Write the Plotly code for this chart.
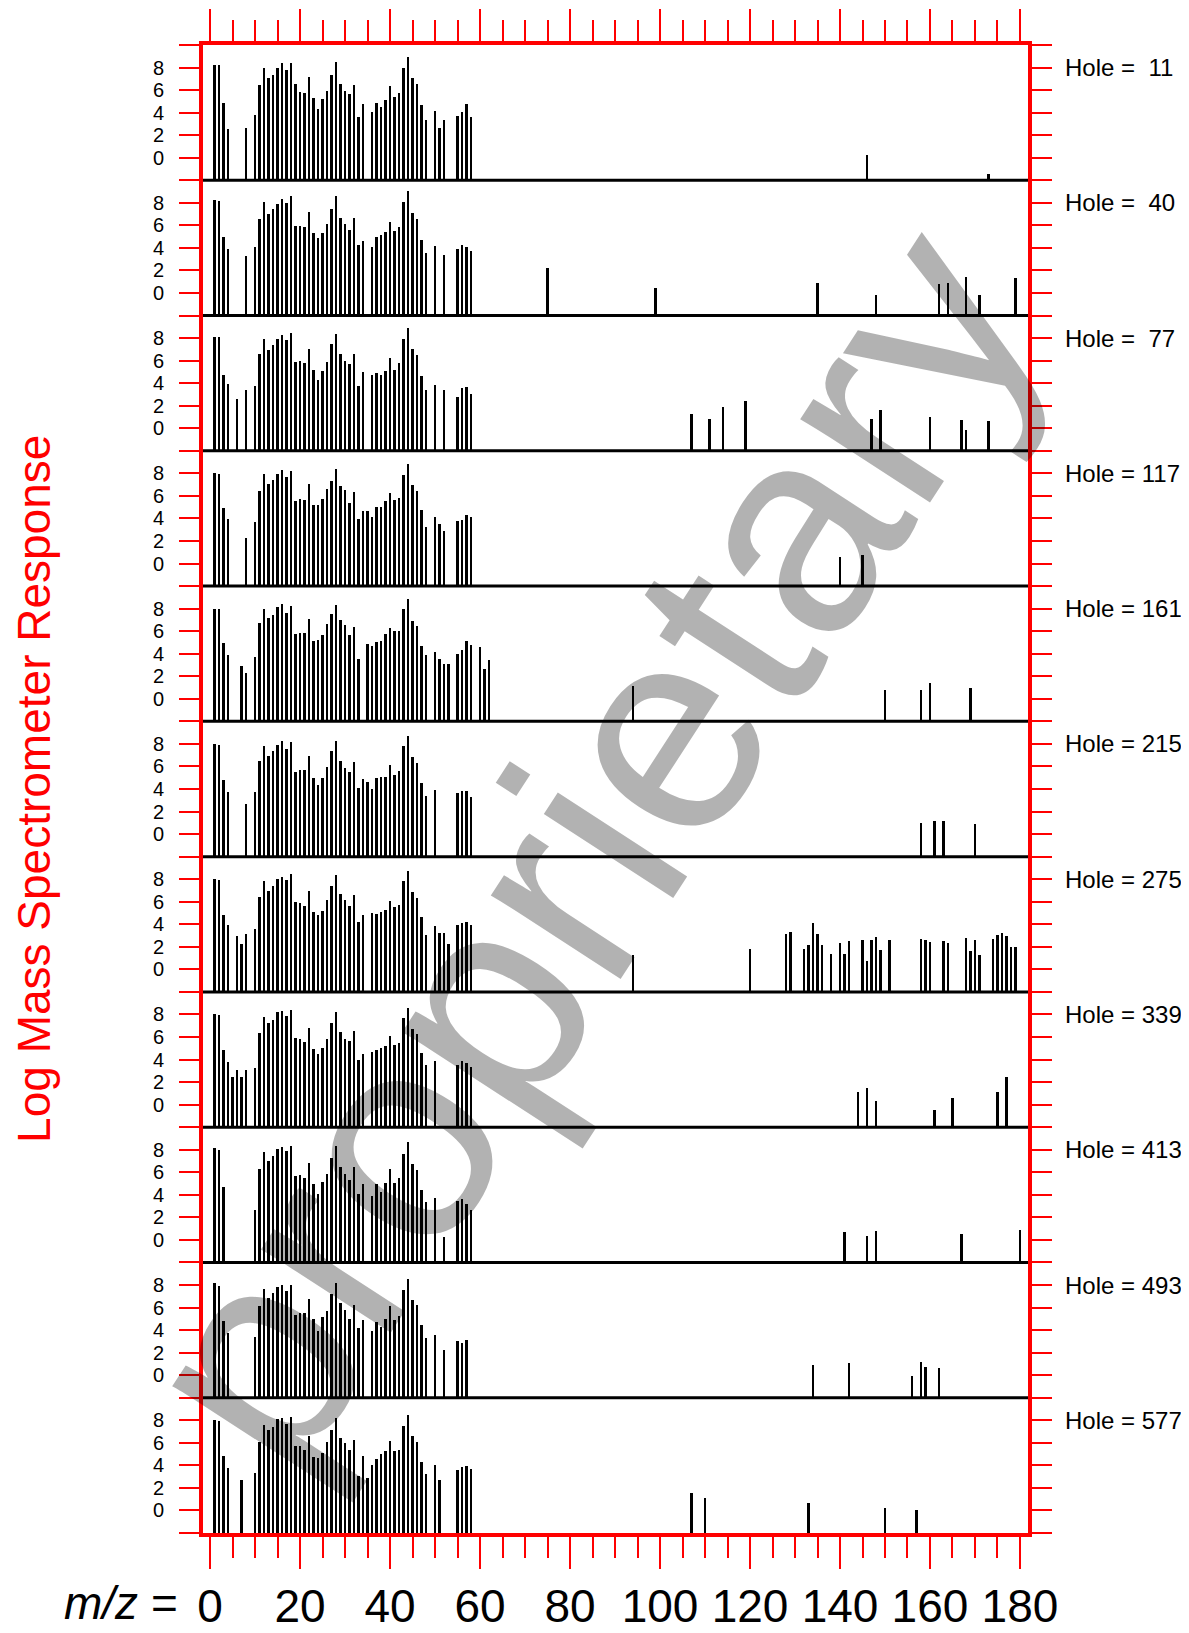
import plotly.graph_objects as go

# m/z runs that most holes share
RUN_10_34 = [10, 11, 12, 13, 14, 15, 16, 17, 18, 19, 20, 21, 22, 23, 24, 25, 26, 27, 28, 29, 30, 31, 32, 33, 34]
RUN_36_48 = [36, 37, 38, 39, 40, 41, 42, 43, 44, 45, 46, 47, 48]

HOLES = [11, 40, 77, 117, 161, 215, 275, 339, 413, 493, 577]

MZ_11 = [1, 2, 3, 4, 8] + RUN_10_34 + RUN_36_48 + [50, 51, 52, 55, 56, 57, 58, 146, 173]
RESP_11 = [8.21, 8.21, 4.89, 2.55, 2.67,
           3.76, 6.49, 7.97, 7.05, 7.38, 7.97, 8.39, 7.79, 8.39, 6.52, 5.87, 5.75, 7.14, 5.27, 4.36,
           5.24, 5.96, 7.38, 8.47, 6.58, 5.96, 5.66, 6.46, 3.64, 4.77,
           4.06, 4.86, 4.47, 5.16, 6.37, 5.36, 5.78, 7.97, 8.98, 7.05, 6.58, 4.65, 3.35,
           4.15, 2.67, 3.35, 3.73, 4.06, 4.74, 3.64, 0.28, -1.4]

MZ_40 = [1, 2, 3, 4, 8] + RUN_10_34 + RUN_36_48 + [50, 52, 55, 56, 57, 58, 75, 99, 135, 148, 162, 164, 168, 171, 179]
RESP_40 = [8.22, 8.17, 4.94, 3.85, 3.25,
           4.05, 6.57, 8.08, 6.98, 7.46, 7.87, 8.34, 7.96, 8.58, 5.95, 5.95, 5.83, 7.16, 5.27, 4.85,
           5.27, 6.07, 7.46, 8.58, 6.63, 6.07, 5.56, 6.63, 4.23, 4.56,
           4.05, 4.94, 5.15, 5.36, 6.27, 5.44, 5.86, 8.08, 9.05, 7.07, 6.57, 4.64, 3.55,
           4.14, 3.34, 3.85, 4.26, 4.05, 3.67,
           2.2, 0.44, 0.9, -0.2, 0.8, 0.9, 1.37, -0.2, 1.27]

MZ_77 = [1, 2, 3, 4, 6, 8] + RUN_10_34 + RUN_36_48 + [50, 52, 55, 56, 57, 58, 107, 111, 114, 119, 147, 149, 160, 167, 168, 173]
RESP_77 = [8.11, 8.11, 4.79, 3.99, 2.60, 3.40,
           3.79, 6.60, 7.99, 7.01, 7.43, 7.99, 8.31, 7.90, 8.52, 5.89, 6.01, 5.80, 7.10, 5.21, 4.29,
           5.09, 5.89, 7.51, 8.40, 6.60, 6.01, 5.71, 6.60, 3.79, 5.00,
           4.79, 4.91, 4.79, 5.09, 6.30, 5.21, 5.80, 7.99, 8.91, 7.10, 6.51, 4.70, 3.40,
           3.91, 3.40, 2.78, 3.61, 3.70, 3.11,
           1.29, 0.82, 1.92, 2.48, 0.82, 1.65, 1.0, 0.74, -0.1, 0.65]

MZ_117 = [1, 2, 3, 4, 8] + RUN_10_34 + [35] + RUN_36_48 + [50, 51, 52, 55, 56, 57, 58, 140, 145]
RESP_117 = [8.08, 7.99, 4.94, 3.96, 2.25,
            3.70, 6.48, 7.96, 7.07, 7.43, 7.99, 8.34, 7.69, 8.25, 5.59, 5.77, 5.62, 7.07, 5.18, 5.18,
            5.77, 6.66, 7.37, 8.40, 6.89, 6.57, 5.41, 6.39, 3.96, 4.67,
            4.70,
            4.14, 5.03, 5.00, 5.56, 6.24, 5.68, 5.86, 7.90, 8.88, 6.98, 6.48, 4.76, 3.25,
            4.14, 3.49, 2.93, 3.76, 3.88, 4.32, 4.17,
            0.56, 0.75]

MZ_161 = ([1, 2, 3, 4, 7, 8] + RUN_10_34[:-1] + [35] + RUN_36_48
          + [50, 51, 52, 53, 55, 56, 57, 58, 60, 61, 62, 94, 150, 158, 160, 169])
RESP_161 = [7.99, 7.99, 4.91, 3.85, 2.90, 2.25,
            3.70, 6.69, 7.93, 7.16, 7.46, 8.14, 8.37, 7.63, 8.25, 5.77, 5.80, 5.80, 7.04, 5.15, 5.24,
            5.68, 6.66, 7.49, 8.34, 6.98, 6.57, 5.65, 6.36, 3.52,
            4.88,
            4.70, 5.00, 5.15, 5.77, 6.24, 5.98, 5.98, 7.99, 8.82, 6.92, 6.45, 4.67, 3.85,
            4.14, 3.49, 3.08, 3.08, 3.96, 4.29, 5.12, 4.79, 4.56, 2.60, 3.40,
            1.14, 0.77, 0.77, 1.41, 0.95]

MZ_215 = [1, 2, 3, 4, 8] + RUN_10_34 + [35] + RUN_36_48 + [50, 55, 56, 57, 58, 158, 161, 163, 170]
RESP_215 = [7.93, 7.90, 4.76, 3.70, 2.63,
            3.73, 6.42, 7.81, 6.92, 7.31, 7.90, 8.22, 7.54, 8.14, 5.50, 5.65, 5.62, 6.89, 4.97, 4.35,
            4.97, 5.89, 7.34, 8.25, 6.45, 5.83, 5.47, 6.39, 4.02, 4.85,
            4.56,
            3.96, 4.94, 5.03, 5.03, 6.09, 5.24, 5.59, 7.81, 8.70, 6.80, 6.30, 4.50, 3.31,
            3.85, 3.61, 3.82, 3.82, 3.25,
            0.96, 1.14, 1.14, 0.87]

MZ_275 = ([1, 2, 3, 4, 6, 7, 8] + RUN_10_34 + RUN_36_48 + [50, 51, 52, 53, 55, 56, 57, 58]
          + [94, 120, 128, 129, 132, 133, 134, 135, 136, 138, 140, 141, 142, 145, 146, 147, 148,
             149, 151, 158, 159, 160, 163, 164, 168, 169, 170, 171, 174, 175, 176, 177, 178, 179])
RESP_275 = [8.05, 7.99, 4.85, 3.99, 2.99, 2.31, 3.20,
            3.64, 6.45, 7.84, 6.95, 7.40, 8.02, 8.25, 7.93, 8.52, 5.98, 5.89, 5.68, 6.95, 5.09, 4.85,
            5.21, 6.21, 7.46, 8.40, 6.72, 6.15, 5.68, 6.63, 4.20, 4.88,
            5.03, 4.97, 5.12, 5.33, 6.12, 5.59, 5.77, 7.87, 8.76, 6.89, 6.39, 4.67, 3.11,
            3.88, 3.22, 3.28, 2.31, 3.99, 4.11, 4.23, 3.99,
            1.28, 1.85, 3.16, 3.34, 1.82, 2.15, 4.18, 3.19, 2.18, 1.37, 2.33, 1.43, 2.54, 2.63, 0.75,
            2.60, 2.93, 1.76, 2.60, 2.69, 2.60, 2.45, 2.57, 2.33, 2.78, 1.64, 2.60, 1.34, 2.72, 3.07,
            3.28, 2.99, 2.06, 2.03]

MZ_339 = [1, 2, 3, 4, 5, 6, 7, 8] + RUN_10_34 + RUN_36_48 + [50, 55, 56, 57, 58, 144, 146, 148, 161, 165, 175, 177]
RESP_339 = [8.02, 7.96, 4.82, 3.79, 2.49, 3.11, 2.49, 3.11,
            3.25, 6.39, 7.75, 7.22, 7.49, 8.22, 8.34, 7.84, 8.37, 5.92, 5.83, 5.59, 6.80, 4.94, 4.53,
            5.03, 5.83, 7.28, 8.22, 6.45, 5.86, 5.65, 6.57, 3.99, 4.53,
            4.64, 4.88, 5.03, 5.18, 6.09, 5.27, 5.47, 7.72, 8.61, 6.72, 6.24, 4.56, 3.52,
            3.91, 3.49, 3.88, 3.70, 3.37,
            1.17, 1.45, 0.34, -0.49, 0.62, 1.17, 2.46]

MZ_413 = [1, 2, 3] + RUN_10_34 + RUN_36_48 + [50, 52, 55, 56, 57, 58, 141, 146, 148, 167, 180]
RESP_413 = [8.11, 7.96, 4.64,
            2.66, 6.24, 7.75, 7.01, 7.46, 8.02, 8.25, 7.90, 8.28, 5.62, 5.77, 5.47, 6.80, 4.97, 4.08,
            5.09, 5.86, 7.22, 8.34, 6.42, 5.83, 5.33, 6.42, 4.02, 4.91,
            3.91, 4.94, 4.26, 5.00, 6.27, 5.06, 5.44, 7.63, 8.67, 6.75, 6.21, 4.38, 3.31,
            3.70, 0.27, 3.40, 3.64, 3.14, 2.63,
            0.72, 0.35, 0.81, 0.54, 0.9]

MZ_493 = [1, 2, 3, 4] + RUN_10_34 + RUN_36_48 + [50, 52, 55, 56, 57, 134, 142, 156, 158, 159, 162]
RESP_493 = [8.11, 7.90, 4.73, 3.70,
            3.31, 6.09, 7.63, 6.80, 7.25, 7.78, 7.99, 7.40, 7.96, 5.33, 5.47, 5.47, 6.69, 4.91, 3.91,
            5.12, 5.65, 7.16, 8.17, 6.33, 5.74, 4.97, 6.18, 4.11, 4.82,
            3.91, 4.70, 4.23, 4.97, 6.07, 4.88, 5.24, 7.54, 8.46, 6.60, 6.15, 4.44, 3.28,
            3.52, 2.22, 2.99, 2.81, 3.11,
            0.82, 1.0, -0.1, 1.1, 0.73, 0.64]

MZ_577 = [1, 2, 3, 4, 7] + RUN_10_34 + [35] + RUN_36_48 + [50, 51, 55, 56, 57, 58, 107, 110, 133, 150, 157]
RESP_577 = [8.05, 7.96, 4.82, 3.79, 2.69,
            3.34, 6.12, 7.63, 7.13, 7.46, 8.17, 8.25, 7.69, 8.28, 5.71, 5.71, 5.41, 6.66, 4.76, 4.70,
            5.12, 6.07, 7.16, 8.22, 6.45, 5.98, 5.38, 6.30, 3.11, 4.82,
            2.93,
            4.02, 4.59, 5.06, 5.27, 6.15, 5.27, 5.38, 7.54, 8.49, 6.60, 6.07, 4.32, 3.25,
            4.02, 2.69, 3.64, 3.88, 3.96, 3.67,
            1.6, 1.1, 0.65, 0.2, 0.1]

MZ = [MZ_11, MZ_40, MZ_77, MZ_117, MZ_161, MZ_215, MZ_275, MZ_339, MZ_413, MZ_493, MZ_577]
RESP = [RESP_11, RESP_40, RESP_77, RESP_117, RESP_161, RESP_215, RESP_275, RESP_339, RESP_413, RESP_493, RESP_577]

Y_RANGE = [-2, 10]
X_RANGE = [-1.56, 181.78]
RED = "#ff0000"
FONT = "Arial, Liberation Sans, sans-serif"

fig = go.Figure()
n = len(HOLES)
for i, (hole, mz, resp) in enumerate(zip(HOLES, MZ, RESP)):
    assert len(mz) == len(resp), hole
    k = "" if i == 0 else str(i + 1)
    # bars hang from the panel floor (y = -2) up to the response
    fig.add_bar(
        x=mz,
        y=[r - Y_RANGE[0] for r in resp],
        base=Y_RANGE[0],
        width=0.5,
        marker=dict(color="black", line_width=0),
        customdata=resp,
        hovertemplate=f"Hole {hole}<br>m/z %{{x}}<br>%{{customdata}}<extra></extra>",
        xaxis="x" + k,
        yaxis="y" + k,
        showlegend=False,
    )

    top, bottom = 1 - i / n, 1 - (i + 1) / n
    fig.layout["yaxis" + k] = dict(
        domain=[bottom, top],
        anchor="x" + k,
        range=Y_RANGE,
        automargin=False,
        tickvals=[-2, 0, 2, 4, 6, 8, 10],
        ticktext=["", "0", "2", "4", "6", "8", ""],
        ticks="outside",
        ticklen=20,
        tickwidth=2,
        tickcolor=RED,
        ticklabelstandoff=11,
        tickfont=dict(size=20, color="black"),
        showline=True,
        linecolor=RED,
        linewidth=4,
        mirror="ticks",
        showgrid=False,
        zeroline=False,
        fixedrange=True,
    )

    xa = dict(
        domain=[0, 1],
        anchor="y" + k,
        range=X_RANGE,
        automargin=False,
        showgrid=False,
        zeroline=False,
        showticklabels=False,
        ticks="",
        showline=False,
    )
    if i > 0:
        xa["matches"] = "x"
    if i in (0, n - 1):
        xa.update(
            showline=True,
            linecolor=RED,
            linewidth=4,
            side="top" if i == 0 else "bottom",
            ticks="outside",
            tick0=0,
            dtick=20,
            ticklen=32,
            tickwidth=2,
            tickcolor=RED,
            minor=dict(tick0=0, dtick=5, ticks="outside", ticklen=21, tickwidth=2, tickcolor=RED),
        )
    if i == n - 1:
        xa.update(showticklabels=True, tickfont=dict(size=46, color="black"), ticklabelstandoff=-2)
    fig.layout["xaxis" + k] = xa

    if i < n - 1:
        fig.add_shape(type="line", xref="paper", yref="paper", x0=0, x1=1, y0=bottom, y1=bottom,
                      line=dict(color="black", width=3))

    pad = "\u00a0\u00a0" if hole < 100 else "\u00a0"
    fig.add_annotation(text=f"Hole ={pad}{hole}", xref="paper", yref="y" + k, x=1.043, y=8,
                       xanchor="left", yanchor="middle", showarrow=False,
                       font=dict(size=24, color="black"))

fig.add_annotation(text="Log Mass Spectrometer Response", xref="paper", yref="paper",
                   x=-0.205, y=0.5, textangle=-90, showarrow=False,
                   xanchor="center", yanchor="middle", font=dict(size=46, color=RED))
fig.add_annotation(text="<i>m/z</i> =", xref="paper", yref="paper", x=-0.028, y=-0.047,
                   xanchor="right", yanchor="middle", showarrow=False,
                   font=dict(size=46, color="black"))
fig.add_annotation(text="proprietary", xref="paper", yref="paper", x=0.466, y=0.462,
                   textangle=-57, showarrow=False, xanchor="center", yanchor="middle",
                   font=dict(size=292, color="rgba(0,0,0,0.3)"))

# the page body adds an 8px margin, so the figure is offset by 8px inside the window
fig.update_layout(
    width=1181,
    height=1625,
    margin=dict(l=195, r=161, t=37, b=100, autoexpand=False),
    paper_bgcolor="white",
    plot_bgcolor="white",
    font=dict(family=FONT),
    bargap=0,
    showlegend=False,
)

fig.write_html("out.html")
